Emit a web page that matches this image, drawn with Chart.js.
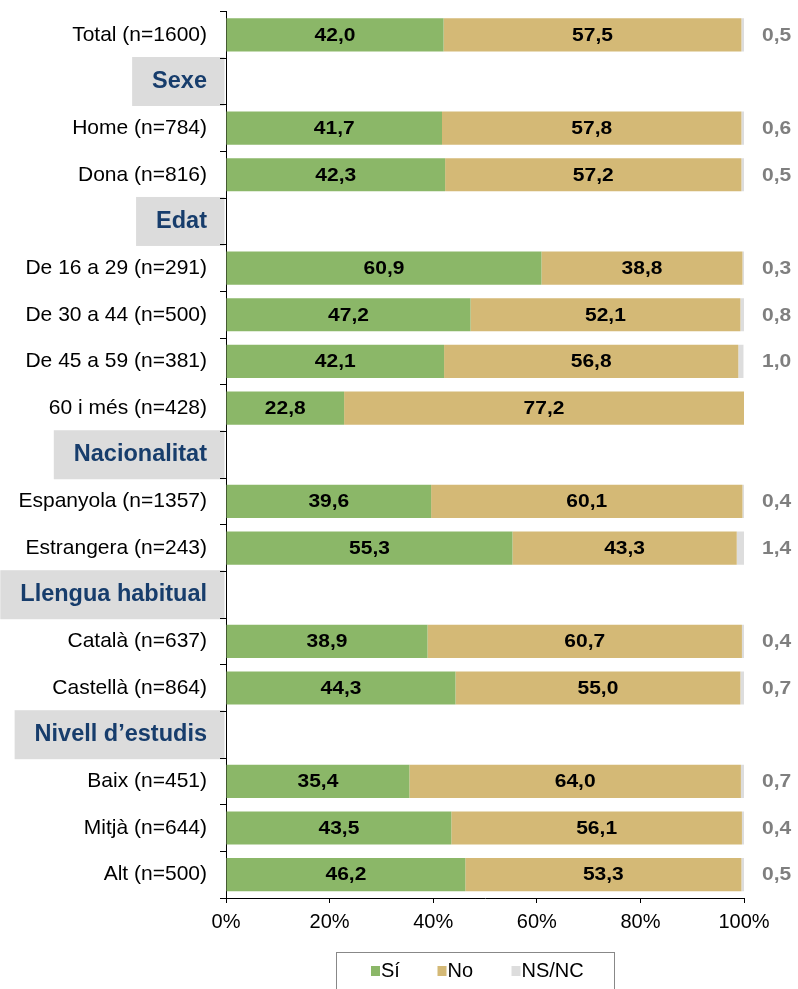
<!DOCTYPE html>
<html>
<head>
<meta charset="utf-8">
<script src="https://cdn.jsdelivr.net/npm/chart.js@4.4.1/dist/chart.umd.min.js"></script>
<style>
  html, body { margin: 0; padding: 0; background: #fff; }
  #wrap { width: 798px; height: 989px; }
</style>
</head>
<body>
<div id="wrap"><canvas id="chart" width="798" height="989"></canvas></div>
<script>
// Categories (header rows have no values)
const categories = [
    'Total (n=1600)',
    'Sexe', 'Home (n=784)', 'Dona (n=816)',
    'Edat', 'De 16 a 29 (n=291)', 'De 30 a 44 (n=500)', 'De 45 a 59 (n=381)', '60 i més (n=428)',
    'Nacionalitat', 'Espanyola (n=1357)', 'Estrangera (n=243)',
    'Llengua habitual', 'Català (n=637)', 'Castellà (n=864)',
    'Nivell d\u2019estudis', 'Baix (n=451)', 'Mitjà (n=644)', 'Alt (n=500)'
];
const headers = ['Sexe', 'Edat', 'Nacionalitat', 'Llengua habitual', 'Nivell d\u2019estudis'];

const si   = [42.0, null, 41.7, 42.3, null, 60.9, 47.2, 42.1, 22.8, null, 39.6, 55.3, null, 38.9, 44.3, null, 35.4, 43.5, 46.2];
const no   = [57.5, null, 57.8, 57.2, null, 38.8, 52.1, 56.8, 77.2, null, 60.1, 43.3, null, 60.7, 55.0, null, 64.0, 56.1, 53.3];
const nsnc = [0.5, null, 0.6, 0.5, null, 0.3, 0.8, 1.0, 0, null, 0.4, 1.4, null, 0.4, 0.7, null, 0.7, 0.4, 0.5];

const xTicks = [0, 20, 40, 60, 80, 100];

const seriesNames = ['Sí', 'No', 'NS/NC'];
const colors = ['#8bb768', '#d4b976', '#dddddd'];

const FONT = '"Liberation Sans", Arial, sans-serif';
const LABEL_PAD = 13;
const isHeader = i => headers.includes(categories[i]);
const fmt = v => v.toFixed(1).replace('.', ',');

// Caixes grises darrere dels titols de grup
const headerBoxes = {
    id: 'headerBoxes',
    beforeDraw(chart) {
        const ctx = chart.ctx;
        const y = chart.scales.y;
        const labelRight = chart.chartArea.left - 6 - LABEL_PAD;
        ctx.save();
        ctx.font = 'bold 23.5px ' + FONT;
        categories.forEach((c, i) => {
            if (!isHeader(i)) return;
            const cy = y.getPixelForValue(i);
            const w = ctx.measureText(c).width;
            const left = Math.max(0, labelRight - w - 20);
            ctx.fillStyle = '#dcdcdc';
            ctx.fillRect(left, cy - 24.5, chart.chartArea.left - 1.5 - left, 49);
        });
        ctx.restore();
    }
};

// Etiquetes de valors
const valueLabels = {
    id: 'valueLabels',
    afterDatasetsDraw(chart) {
        const ctx = chart.ctx;
        ctx.save();
        ctx.textBaseline = 'middle';
        chart.data.datasets.forEach((ds, di) => {
            const meta = chart.getDatasetMeta(di);
            meta.data.forEach((bar, i) => {
                const v = ds.data[i];
                if (v == null || v === 0) return;
                ctx.save();
                ctx.font = 'bold 17.5px ' + FONT;
                if (di < 2) {
                    ctx.fillStyle = '#000';
                    ctx.textAlign = 'center';
                    ctx.translate((bar.x + bar.base) / 2, bar.y + 1);
                } else {
                    ctx.fillStyle = '#7f7f7f';
                    ctx.textAlign = 'left';
                    ctx.translate(chart.chartArea.right + 18, bar.y + 1);
                }
                ctx.scale(1.2, 1);
                ctx.fillText(fmt(v), 0, 0);
                ctx.restore();
            });
        });
        ctx.restore();
    }
};

// Llegenda amb marc
const boxLegend = {
    id: 'boxLegend',
    afterDraw(chart) {
        const ctx = chart.ctx;
        ctx.save();
        ctx.strokeStyle = '#888';
        ctx.lineWidth = 1;
        ctx.strokeRect(336.5, 952.5, 278, 45);
        const xs = [371, 437.5, 511.5];
        ctx.font = '20px ' + FONT;
        ctx.textBaseline = 'middle';
        ctx.textAlign = 'left';
        seriesNames.forEach((n, i) => {
            ctx.fillStyle = colors[i];
            ctx.fillRect(xs[i], 966, 9, 10);
            ctx.fillStyle = '#000';
            ctx.fillText(n, xs[i] + 10, 971.5);
        });
        ctx.restore();
    }
};

new Chart(document.getElementById('chart'), {
    type: 'bar',
    data: {
        labels: categories,
        datasets: [
            { label: seriesNames[0], data: si, backgroundColor: colors[0] },
            { label: seriesNames[1], data: no, backgroundColor: colors[1] },
            { label: seriesNames[2], data: nsnc, backgroundColor: colors[2] }
        ]
    },
    options: {
        indexAxis: 'y',
        responsive: false,
        animation: false,
        devicePixelRatio: 1,
        barPercentage: 0.71,
        categoryPercentage: 1,
        layout: { padding: { top: 11.5, right: 54, bottom: 0, left: 0 } },
        plugins: {
            legend: { display: false },
            tooltip: { enabled: false }
        },
        scales: {
            x: {
                stacked: true,
                min: 0,
                max: 100,
                afterBuildTicks: s => { s.ticks = xTicks.map(v => ({ value: v })); },
                afterFit: s => { s.height = 91; },
                ticks: {
                    callback: v => v + '%',
                    color: '#000',
                    padding: 7,
                    maxRotation: 0,
                    font: { family: FONT, size: 20 }
                },
                grid: { drawOnChartArea: false, tickLength: 5, color: '#000' },
                border: { color: '#000', width: 1 }
            },
            y: {
                stacked: true,
                afterFit: s => {
                    s.width = 226;
                    s.paddingTop = 0;
                    s.paddingBottom = 0;
                },
                ticks: {
                    autoSkip: false,
                    padding: LABEL_PAD,
                    color: c => isHeader(c.index) ? '#173d6c' : '#000',
                    font: c => isHeader(c.index)
                        ? { family: FONT, size: 23.5, weight: 'bold' }
                        : { family: FONT, size: 21 }
                },
                grid: { drawOnChartArea: false, tickLength: 6, color: '#000', offset: true },
                border: { color: '#000', width: 1 }
            }
        }
    },
    plugins: [headerBoxes, valueLabels, boxLegend]
});
</script>
</body>
</html>
